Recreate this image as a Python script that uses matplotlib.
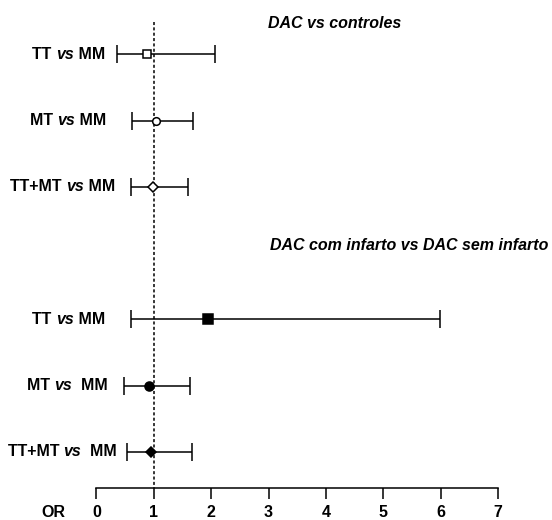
import matplotlib.pyplot as plt

plt.rcParams["font.family"] = ["Liberation Sans", "DejaVu Sans"]

# odds ratios with 95% CI, two comparison blocks
groups = ["TT", "MT", "TT+MT", "TT", "MT", "TT+MT"]
refs = [" MM", " MM", " MM", " MM", "  MM", "  MM"]
odds = [0.88, 1.03, 0.99, 1.94, 0.91, 0.95]
ci_low = [0.36, 0.62, 0.60, 0.60, 0.48, 0.53]
ci_high = [2.07, 1.68, 1.60, 5.98, 1.63, 1.67]
rows = [0, 1, 2, 4, 5, 6]
markers = ["s", "o", "D", "s", "o", "D"]
filled = [False, False, False, True, True, True]
msizes = [5.5, 5.5, 5, 6.5, 6.5, 5.5]
label_end = [0.15, 0.17, 0.32, 0.15, 0.20, 0.36]
headers = ["DAC vs controles", "DAC com infarto vs DAC sem infarto"]
header_rows = [-0.47, 2.88]
header_x = [2.99, 3.02]
xticks = [0, 1, 2, 3, 4, 5, 6, 7]

FS = 11.5

fig = plt.figure(figsize=(5.52, 5.20), dpi=100)
ax = fig.add_axes([0, 31.7 / 520, 1, 488.3 / 520])

for r, o, lo, hi, m, f, ms in zip(rows, odds, ci_low, ci_high, markers, filled, msizes):
    ax.errorbar(o, r, xerr=[[o - lo], [hi - o]], fmt="none", ecolor="black",
                elinewidth=1.1, capsize=6.5, capthick=1.1)
    ax.plot(o, r, marker=m, markersize=ms, markeredgecolor="black",
            markerfacecolor="black" if f else "white", markeredgewidth=1.1,
            linestyle="none", zorder=3)

# reference line at OR = 1
ax.plot([1, 1], [-0.49, 6.55], color="black", linestyle=(0, (2, 1.5)),
        linewidth=1.1, zorder=1, clip_on=False)

# row labels: bold with italic "vs"
for r, g, mm, xe in zip(rows, groups, refs, label_end):
    t1 = ax.text(xe, r, mm, ha="right", va="center", fontsize=FS, fontweight="bold")
    t2 = ax.annotate("vs", xy=(0, 0.5), xycoords=t1, ha="right", va="center",
                     fontsize=FS, fontweight="bold", style="italic")
    ax.annotate(g + " ", xy=(0, 0.5), xycoords=t2, ha="right", va="center",
                fontsize=FS, fontweight="bold")

for h, hr, hx in zip(headers, header_rows, header_x):
    ax.text(hx, hr, h, ha="left", va="center", fontsize=FS, fontweight="bold", style="italic")

ax.set_xlim(-1.68, 7.94)
ax.set_ylim(6.55, -0.82)
ax.set_xticks(xticks)
ax.set_xticklabels([str(t) for t in xticks], fontweight="bold", fontsize=FS)
ax.tick_params(axis="x", length=7.9, width=1.1, pad=4, direction="out")
ax.set_yticks([])
for s in ["top", "right", "left"]:
    ax.spines[s].set_visible(False)
ax.spines["bottom"].set_bounds(0, 7)
ax.spines["bottom"].set_linewidth(1.1)

ax.annotate("OR", xy=(-0.75, 0), xycoords=("data", "axes fraction"),
            xytext=(0, -11.9), textcoords="offset points", ha="center", va="top",
            fontsize=FS, fontweight="bold")

fig.savefig("out.png", dpi=100)
